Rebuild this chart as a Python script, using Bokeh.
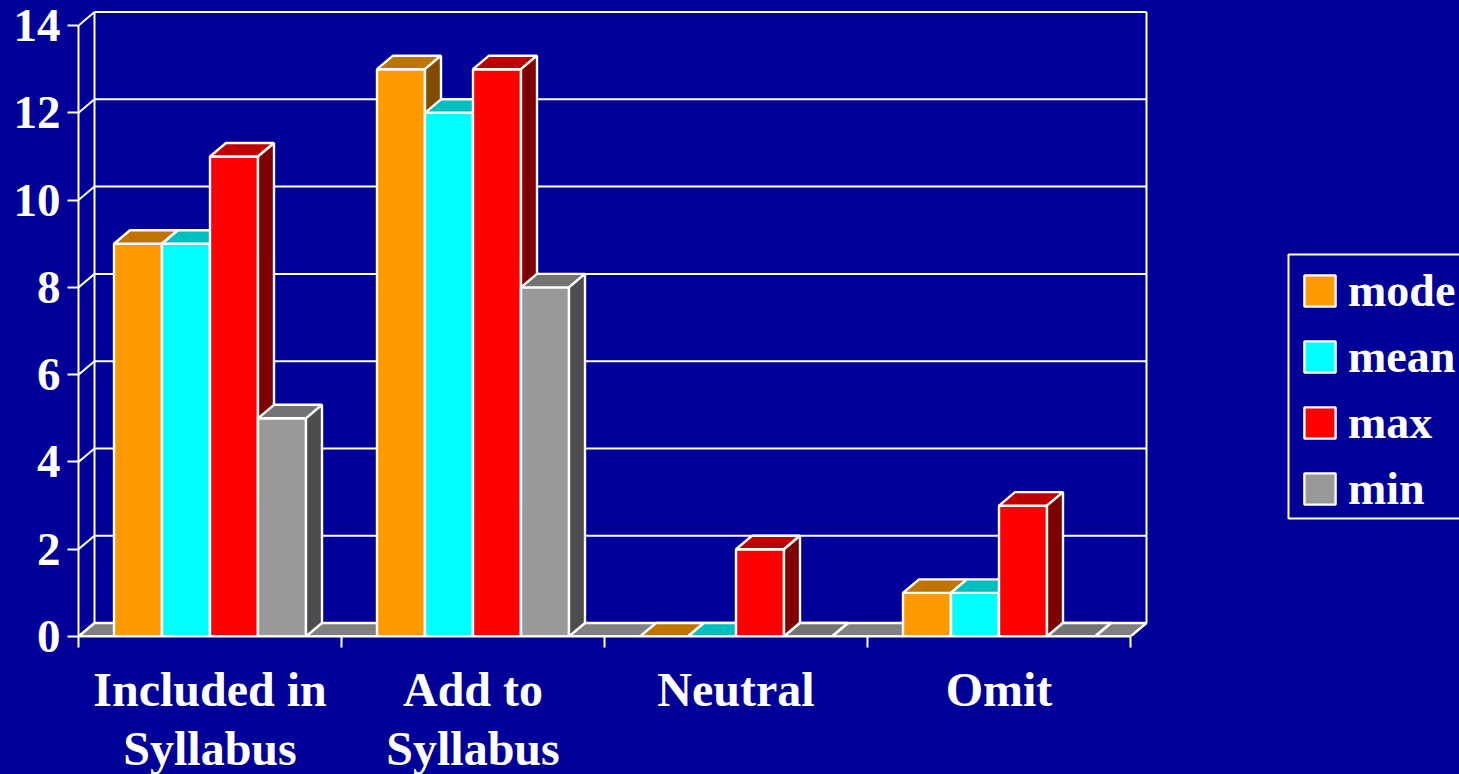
from bokeh.embed import file_html
from bokeh.resources import INLINE
from bokeh.plotting import figure
from bokeh.models import (LinearAxis, FixedTicker, Range1d, Legend, LegendItem,
                          BoxAnnotation)

categories = ["Included in\nSyllabus", "Add to\nSyllabus", "Neutral", "Omit"]
series_names = ["mode", "mean", "max", "min"]
mode_values = [9, 13, 0, 1]
mean_values = [9, 12, 0, 1]
max_values = [11, 13, 2, 3]
min_values = [5, 8, 0, 0]
y_ticks = [0, 2, 4, 6, 8, 10, 12, 14]

front_colors = ["#FF9900", "#00FFFF", "#FF0000", "#999999"]
top_colors = ["#BF7300", "#00BFBF", "#BF0000", "#737373"]
side_colors = ["#7F4C00", "#007F7F", "#7F0000", "#4D4D4D"]
BG = "#000099"
FLOOR = "#808080"
FONT = "Liberation Serif"

WIDTH, HEIGHT = 1459, 777
LEFT, BOTTOM = 78, 141
PX_X = 263.0
PX_Y = 43.64
DX = 16 / PX_X
DY = 13.5 / PX_Y
BW = 48 / PX_X
GAP = (1 - 4 * BW) / 2
N = len(categories)

p = figure(width=WIDTH, height=HEIGHT, output_backend="svg", toolbar_location=None,
           x_axis_type=None, y_axis_type=None,
           x_range=Range1d(0, (WIDTH - LEFT) / PX_X),
           y_range=Range1d(0, (HEIGHT - BOTTOM) / PX_Y),
           min_border_left=LEFT, min_border_right=0, min_border_top=0, min_border_bottom=BOTTOM,
           background_fill_color=BG, border_fill_color=BG, outline_line_color=None)
p.grid.visible = False

# floor
p.patch([0, N, N + DX, DX], [0, 0, DY, DY], fill_color=FLOOR, line_color="white", line_width=2.4)
# back wall
p.segment([DX] * len(y_ticks), [v + DY for v in y_ticks], [N + DX] * len(y_ticks), [v + DY for v in y_ticks],
          line_color="white", line_width=2)
p.segment([DX, N + DX], [DY, DY], [DX, N + DX], [y_ticks[-1] + DY] * 2, line_color="white", line_width=2)
# side wall diagonals
p.segment([0] * len(y_ticks), y_ticks, [DX] * len(y_ticks), [v + DY for v in y_ticks],
          line_color="white", line_width=2)

legend_items = []
for s, values in enumerate([mode_values, mean_values, max_values, min_values]):
    x0 = [c + GAP + s * BW for c in range(N)]
    x1 = [x + BW for x in x0]
    front = p.quad(left=x0, right=x1, bottom=[0] * N, top=values,
                   fill_color=front_colors[s], line_color="white", line_width=2.4)
    p.patches([[a, a + DX, b + DX, b] for a, b in zip(x0, x1)],
              [[v, v + DY, v + DY, v] for v in values],
              fill_color=top_colors[s], line_color="white", line_width=2.4)
    p.patches([[b, b + DX, b + DX, b] for b in x1],
              [[0, DY, v + DY, v] for v in values],
              fill_color=side_colors[s], line_color="white", line_width=2.4)
    legend_items.append(LegendItem(label=series_names[s], renderers=[front]))

# axes
yaxis = LinearAxis(ticker=FixedTicker(ticks=y_ticks), bounds=(0, y_ticks[-1]),
                   axis_line_color="white", axis_line_width=2,
                   major_tick_line_color="white", major_tick_line_width=2,
                   major_tick_out=11, major_tick_in=0, minor_tick_line_color=None,
                   major_label_standoff=7, major_label_text_color="white",
                   major_label_text_font=FONT, major_label_text_font_style="bold",
                   major_label_text_font_size="47px", major_label_text_line_height=1.08)
p.add_layout(yaxis, "left")

centers = [i + 0.5 for i in range(N)]
xaxis = LinearAxis(ticker=FixedTicker(ticks=centers, minor_ticks=list(range(N + 1))),
                   bounds=(0, N),
                   major_label_overrides={c: t for c, t in zip(centers, categories)},
                   axis_line_color="white", axis_line_width=2,
                   major_tick_line_color=None, major_tick_out=0, major_tick_in=0,
                   minor_tick_line_color="white", minor_tick_line_width=2,
                   minor_tick_out=11, minor_tick_in=0,
                   major_label_standoff=15,
                   major_label_text_color="white", major_label_text_font=FONT,
                   major_label_text_font_style="bold", major_label_text_font_size="48px",
                   major_label_text_line_height=1.12)
p.add_layout(xaxis, "below")

# legend
frame_bottom = HEIGHT - BOTTOM
p.add_layout(BoxAnnotation(left=1288 - LEFT, right=1470 - LEFT,
                           top=frame_bottom - 254, bottom=frame_bottom - 518,
                           left_units="screen", right_units="screen", top_units="screen", bottom_units="screen",
                           fill_color=None, line_color="white", line_alpha=1, line_width=2, level="overlay"))
legend = Legend(items=legend_items, location=(1300 - LEFT, 121), orientation="vertical",
                glyph_width=39, glyph_height=39, spacing=13, padding=12, margin=0,
                label_standoff=9, label_height=39,
                background_fill_alpha=0, border_line_color=None,
                label_text_color="white", label_text_font=FONT, label_text_font_style="bold",
                label_text_font_size="46px")
p.add_layout(legend, "center")

template = """{% block postamble %}<style>html,body{margin:0;background:#000099;overflow:hidden}</style>{% endblock %}
"""
open("out.html", "w").write(file_html(p, INLINE, template=template))
